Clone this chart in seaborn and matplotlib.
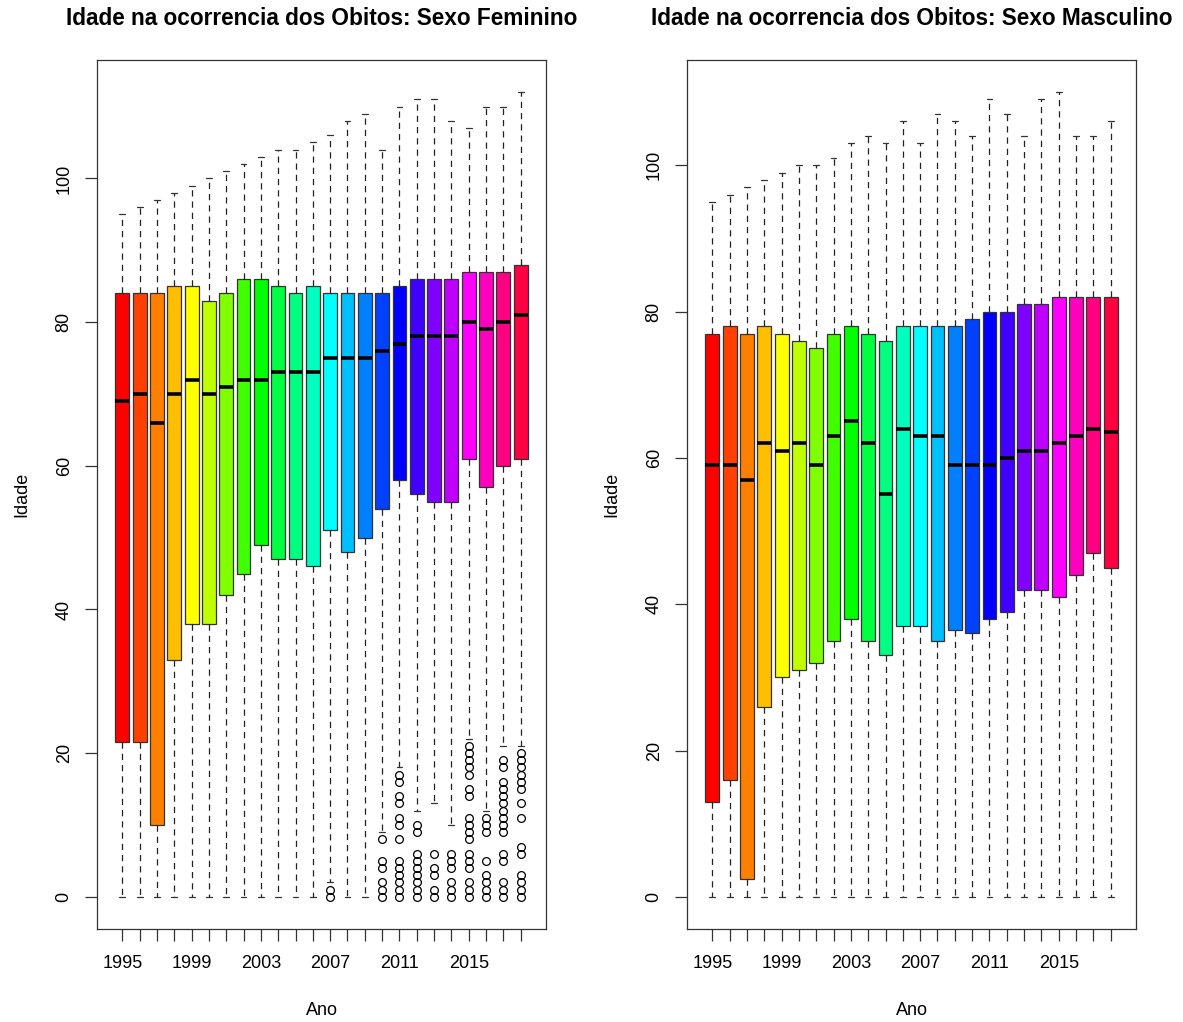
import colorsys
import matplotlib
matplotlib.use("Agg")
import matplotlib.pyplot as plt
import seaborn as sns

# ---- data -------------------------------------------------------------
anos = list(range(1995, 2019))

# Female deaths: age summary per year
fem_q1 = [21.5, 21.5, 10, 33, 38, 38, 42, 45, 49, 47, 47, 46,
          51, 48, 50, 54, 58, 56, 55, 55, 61, 57, 60, 61]
fem_med = [69, 70, 66, 70, 72, 70, 71, 72, 72, 73, 73, 73,
           75, 75, 75, 76, 77, 78, 78, 78, 80, 79, 80, 81]
fem_q3 = [84, 84, 84, 85, 85, 83, 84, 86, 86, 85, 84, 85,
          84, 84, 84, 84, 85, 86, 86, 86, 87, 87, 87, 88]
fem_lo = [0, 0, 0, 0, 0, 0, 0, 0, 0, 0, 0, 0,
          2, 0, 0, 9, 18, 12, 13, 10, 22, 12, 21, 21]
fem_hi = [95, 96, 97, 98, 99, 100, 101, 102, 103, 104, 104, 105,
          106, 108, 109, 104, 110, 111, 111, 108, 107, 110, 110, 112]
fem_out = {
    2007: [1, 0],
    2010: [8, 5, 4, 2, 1, 0],
    2011: [17, 16, 14, 13, 11, 10, 8, 5, 4, 3, 2, 1, 0],
    2012: [10, 9, 6, 5, 4, 3, 2, 1, 0],
    2013: [6, 4, 3, 1, 0],
    2014: [6, 5, 4, 2, 1, 0],
    2015: [21, 20, 19, 18, 17, 15, 14, 11, 10, 9, 8, 6, 5, 4, 2, 1, 0],
    2016: [11, 10, 9, 5, 3, 2, 1, 0],
    2017: [19, 18, 16, 15, 14, 13, 12, 11, 10, 9, 6, 5, 2, 1, 0],
    2018: [20, 19, 18, 17, 16, 15, 13, 11, 7, 6, 3, 2, 1, 0],
}

# Male deaths: age summary per year
mas_q1 = [13, 16, 2.5, 26, 30, 31, 32, 35, 38, 35, 33, 37,
          37, 35, 36.5, 36, 38, 39, 42, 42, 41, 44, 47, 45]
mas_med = [59, 59, 57, 62, 61, 62, 59, 63, 65, 62, 55, 64,
           63, 63, 59, 59, 59, 60, 61, 61, 62, 63, 64, 63.5]
mas_q3 = [77, 78, 77, 78, 77, 76, 75, 77, 78, 77, 76, 78,
          78, 78, 78, 79, 80, 80, 81, 81, 82, 82, 82, 82]
mas_lo = [0] * 24
mas_hi = [95, 96, 97, 98, 99, 100, 100, 101, 103, 104, 103, 106,
          103, 107, 106, 104, 109, 107, 104, 109, 110, 104, 104, 106]
mas_out = {}

rotulos_x = ["1995", "1999", "2003", "2007", "2011", "2015"]

# ---- style -------------------------------------------------------------
sns.set_theme(style="white")
plt.rcParams["font.family"] = ["Liberation Sans", "DejaVu Sans"]
plt.rcParams["text.color"] = "black"
plt.rcParams["axes.labelcolor"] = "black"
plt.rcParams["xtick.color"] = "#333333"
plt.rcParams["ytick.color"] = "#333333"
plt.rcParams["xtick.labelcolor"] = "black"
plt.rcParams["ytick.labelcolor"] = "black"

cores = [colorsys.hsv_to_rgb(i / len(anos), 1, 1) for i in range(len(anos))]


def resumo(q1, med, q3, lo, hi, out):
    stats = []
    for i, ano in enumerate(anos):
        stats.append(dict(q1=q1[i], med=med[i], q3=q3[i],
                          whislo=lo[i], whishi=hi[i],
                          fliers=out.get(ano, [])))
    return stats


def painel(ax, stats, titulo, ylim):
    pos = list(range(len(anos)))
    bp = ax.bxp(stats, positions=pos, widths=0.8, patch_artist=True,
                showfliers=True, capwidths=0.34,
                boxprops=dict(edgecolor="#333333", linewidth=0.9),
                medianprops=dict(color="black", linewidth=2.6,
                                 solid_capstyle="butt"),
                whiskerprops=dict(color="#222222", linewidth=0.9,
                                  linestyle=(0, (5, 4))),
                capprops=dict(color="#333333", linewidth=0.9),
                flierprops=dict(marker="o", markerfacecolor="none",
                                markeredgecolor="black", markersize=5.6,
                                markeredgewidth=0.9, linestyle="none"))
    for patch, c in zip(bp["boxes"], cores):
        patch.set_facecolor(c)

    ax.set_xlim(-1.46, len(anos) - 1 + 1.46)
    ax.set_ylim(*ylim)
    ax.set_xticks(pos)
    labels = [str(a) if str(a) in rotulos_x else "" for a in anos]
    ax.set_xticklabels(labels, fontsize=13)
    ax.set_yticks([0, 20, 40, 60, 80, 100])
    ax.set_yticklabels(["0", "20", "40", "60", "80", "100"], fontsize=13,
                       rotation=90, va="center")
    ax.tick_params(axis="both", direction="out", length=8.5, width=0.9,
                   bottom=True, left=True)
    ax.tick_params(axis="x", pad=10)
    ax.tick_params(axis="y", pad=9)
    for s in ax.spines.values():
        s.set_color("#333333")
        s.set_linewidth(0.9)
    ax.set_xlabel("Ano", fontsize=13, labelpad=22)
    ax.set_ylabel("Idade", fontsize=13, labelpad=18)
    ax.set_title(titulo, fontsize=16.3, fontweight="bold", pad=25)


fig = plt.figure(figsize=(11.83, 10.22), dpi=100)
ax1 = fig.add_axes([97 / 1183, 1 - 929 / 1022, 449 / 1183, 869 / 1022])
ax2 = fig.add_axes([687 / 1183, 1 - 929 / 1022, 449 / 1183, 869 / 1022])

painel(ax1, resumo(fem_q1, fem_med, fem_q3, fem_lo, fem_hi, fem_out),
       "Idade na ocorrencia dos Obitos: Sexo Feminino", (-4.48, 116.48))
painel(ax2, resumo(mas_q1, mas_med, mas_q3, mas_lo, mas_hi, mas_out),
       "Idade na ocorrencia dos Obitos: Sexo Masculino", (-4.4, 114.4))

fig.savefig("out.png", dpi=100, facecolor="white")
